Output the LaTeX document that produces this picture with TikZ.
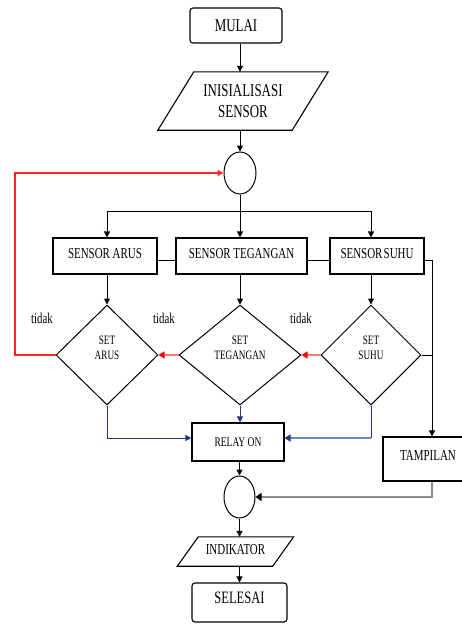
\documentclass[tikz,border=0pt]{standalone}
\usepackage{fontspec}
\setmainfont{Liberation Serif}[FakeStretch=0.72]
\usetikzlibrary{shapes.geometric,arrows.meta,calc}
\definecolor{navy}{RGB}{31,56,130}
\definecolor{lblue}{RGB}{112,136,186}
\definecolor{pred}{RGB}{255,120,120}
\definecolor{gline}{RGB}{140,140,140}
\newcommand\liftby[2]{\raisebox{#1}[\height][\depth]{#2}}
\newcommand\fbig{\fontsize{18}{21}\selectfont}
\newcommand\fmid{\fontsize{15.2}{17}\selectfont}
\newcommand\fsml{\fontsize{12.8}{15}\selectfont}
\begin{document}
\begin{tikzpicture}[x=1pt,y=-1pt,
  base/.style={inner sep=0pt, text=black},
  proc/.style={base, draw, line width=1.1pt},
  term/.style={proc, rounded corners=3pt},
  dia/.style={base, draw, diamond, line width=1pt},
  conn/.style={base, draw, ellipse, line width=1pt, minimum width=32pt, minimum height=42pt},
  tip/.style={-{Triangle[length=6pt,width=6pt]}},
  arr/.style={line width=1pt, tip},
  redarr/.style={pred, line width=2.6pt, -{Triangle[length=6pt,width=7pt,fill=red,color=red]}},
  lbl/.style={base, font=\fontsize{15}{17}\selectfont}
]
\path[use as bounding box] (0,0) rectangle (462,624);
\clip (0,0) rectangle (462,624);

\coordinate (ybr) at (0,211);
\coordinate (yc) at (0,260);
\coordinate (yb) at (0,438);
\coordinate (xr) at (432,0);
\coordinate (xl) at (15,0);

% nodes
\node[term, minimum width=92pt, minimum height=35pt, font=\fbig] (mulai) at (236,25.5) {MULAI};
\node[base, minimum width=134pt, minimum height=58pt, align=center, font=\fbig] (init) at (243,101) {INISIALISASI\\[0pt]SENSOR};
\draw[line width=1.1pt] ([xshift=18pt]init.north west) -- ([xshift=18pt]init.north east) -- ([xshift=-18pt]init.south east) -- ([xshift=-18pt]init.south west) -- cycle;
\node[conn] (c1) at (240,173) {};

\node[proc, minimum width=104pt, minimum height=36pt, font=\fmid] (sArus) at (105,256) {\liftby{2pt}{SENSOR ARUS}};
\node[proc, minimum width=131pt, minimum height=36pt, font=\fmid] (sTeg) at (241.5,256) {\liftby{2pt}{SENSOR TEGANGAN}};
\node[proc, minimum width=94pt, minimum height=36pt, font=\fmid] (sSuhu) at (377,256) {\liftby{2pt}{SENSOR\hspace{-1.5pt} SUHU}};

\node[dia, minimum width=102pt, minimum height=100pt, font=\fsml] (dArus) at (107,355) {\raisebox{-4pt}[0pt][0pt]{\begin{tabular}[b]{@{}c@{}}SET\\ARUS\end{tabular}}};
\node[dia, minimum width=122pt, minimum height=100pt, font=\fsml] (dTeg) at (240,355) {\raisebox{-4pt}[0pt][0pt]{\begin{tabular}[b]{@{}c@{}}SET\\TEGANGAN\end{tabular}}};
\node[dia, minimum width=100pt, minimum height=100pt, font=\fsml] (dSuhu) at (371,355) {\raisebox{-4pt}[0pt][0pt]{\begin{tabular}[b]{@{}c@{}}SET\\SUHU\end{tabular}}};

\node[lbl] (t1) at (42,318) {tidak};
\node[lbl] (t2) at (164,318) {tidak};
\node[lbl] (t3) at (301,318) {tidak};

\node[proc, minimum width=92pt, minimum height=38pt, font=\fontsize{13.2}{15}\selectfont] (relay) at (238,442) {RELAY ON};
\node[proc, minimum width=90pt, minimum height=44pt, font=\fmid] (tamp) at (428,459) {\liftby{4pt}{TAMPILAN}};
\node[conn, minimum width=31pt] (c2) at (239.5,497) {};
\node[base, minimum width=95pt, minimum height=29pt, font=\fmid] (indik) at (235.5,551.5) {\liftby{2pt}{INDIKATOR}};
\draw[line width=1.1pt] ([xshift=10.5pt]indik.north west) -- ([xshift=10.5pt]indik.north east) -- ([xshift=-10.5pt]indik.south east) -- ([xshift=-10.5pt]indik.south west) -- cycle;
\node[term, minimum width=95pt, minimum height=39pt, font=\fontsize{17.4}{20}\selectfont] (sel) at (239.5,602.5) {\liftby{4.5pt}{SELESAI}};

% connectors
\draw[arr] (mulai.south -| c1) -- (init.north -| c1);
\draw[arr] (init.south -| c1) -- (c1.north);
\draw[line width=1pt] (c1.south) -- (c1.south |- ybr);
\draw[line width=1pt] (dArus |- ybr) -- (dSuhu |- ybr);
\draw[arr] (dArus |- ybr) -- (dArus |- sArus.north);
\draw[arr] (dTeg |- ybr) -- (dTeg |- sTeg.north);
\draw[arr] (dSuhu |- ybr) -- (dSuhu |- sSuhu.north);

\draw[line width=1pt] (sArus.east |- yc) -- (sTeg.west |- yc);
\draw[line width=1pt] (sTeg.east |- yc) -- (sSuhu.west |- yc);
\draw[line width=1pt] (sSuhu.east |- yc) -- (xr |- yc);
\draw[arr] (xr |- yc) -- (xr |- tamp.north);
\draw[line width=1pt] (dSuhu.east) -- (xr |- dSuhu.east);

\draw[arr] (dArus |- sArus.south) -- (dArus.north);
\draw[arr] (dTeg |- sTeg.south) -- (dTeg.north);
\draw[arr] (dSuhu |- sSuhu.south) -- (dSuhu.north);

\draw[redarr] (dTeg.west) -- (dArus.east);
\draw[redarr] (dSuhu.west) -- (dTeg.east);
\draw[red!85, line width=1.2pt, -{Triangle[length=6pt,width=6pt]}] (dArus.west) -- (xl |- dArus.west) |- (c1.west);

\draw[navy, line width=1pt, tip] (dArus.south) |- (relay.west |- yb);
\draw[navy, line width=1pt, tip] (dTeg.south) -- (dTeg.south |- relay.north);
\draw[navy, line width=1pt] (dSuhu.south) -- (dSuhu.south |- yb);
\draw[lblue, line width=2.4pt, -{Triangle[length=6pt,width=7pt,fill=navy,color=navy]}] (dSuhu.south |- yb) -- (relay.east |- yb);

\draw[arr] (relay.south -| c2) -- (c2.north);
\draw[gline, line width=2.6pt, -{Triangle[length=6pt,width=8pt,fill=black,color=black]}] (xr |- tamp.south) |- (c2.east);
\draw[arr] (c2.south) -- (indik.north -| c2);
\draw[arr] (indik.south -| c2) -- (sel.north -| c2);
\end{tikzpicture}
\end{document}
